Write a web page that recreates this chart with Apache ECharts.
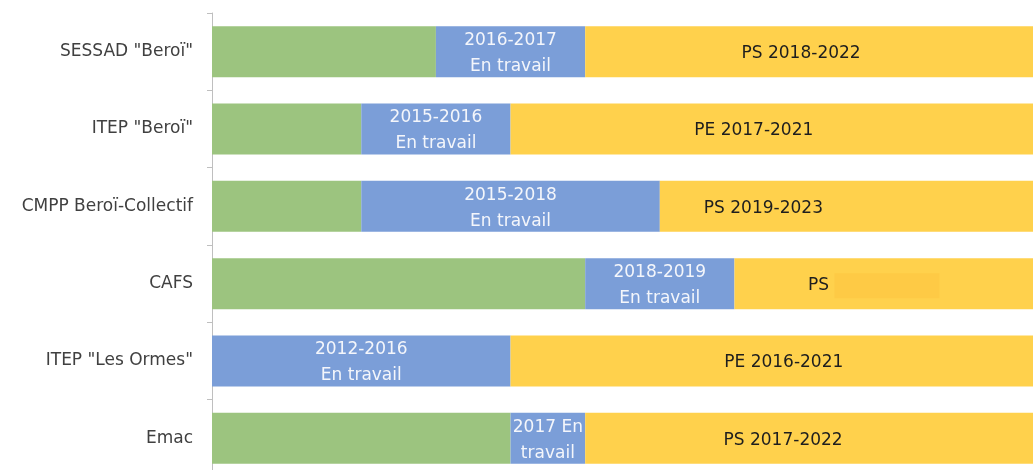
<!DOCTYPE html>
<html>
<head>
<meta charset="utf-8">
<script src="https://cdn.jsdelivr.net/npm/echarts@6/dist/echarts.min.js"></script>
<style>
  html, body { margin: 0; padding: 0; background: #ffffff; overflow: hidden; }
  #chart { width: 1033px; height: 480px; }
</style>
</head>
<body>
<div id="chart"></div>
<script>
// ---- data (units: years, stacked from the left edge) ----
const categories = ['SESSAD "Beroï"', 'ITEP "Beroï"', 'CMPP Beroï-Collectif', 'CAFS', 'ITEP "Les Ormes"', 'Emac'];
const beforeValues = [3, 2, 2, 5, 0, 4];
const workValues = [2, 2, 4, 2, 4, 1];
const planValues = [6, 7, 5, 4, 7, 6];
const workLabels = ['2016-2017\nEn travail', '2015-2016\nEn travail', '2015-2018\nEn travail', '2018-2019\nEn travail', '2012-2016\nEn travail', '2017 En\ntravail'];
const planLabels = ['PS 2018-2022', 'PE 2017-2021', 'PS 2019-2023', 'PS {r|}', 'PE 2016-2021', 'PS 2017-2022'];

// ---- layout / style ----
const FONT = 'DejaVu Sans';
const planLabelNudge = [-8, -18, -83, -10, 12, -26];
const GREEN = '#9CC47F', BLUE = '#7B9ED8', YELLOW = '#FFD14C';

const chart = echarts.init(document.getElementById('chart'), null, { renderer: 'canvas' });

const option = {
  animation: false,
  backgroundColor: '#ffffff',
  grid: { left: 212, top: 13, width: 826, height: 464, containLabel: false },
  xAxis: { type: 'value', min: 0, max: 11, show: false },
  yAxis: {
    type: 'category',
    data: categories,
    inverse: true,
    axisLine: { show: true, lineStyle: { color: '#BFBFBF', width: 1 } },
    axisTick: { show: true, length: 5, lineStyle: { color: '#BFBFBF' } },
    axisLabel: { color: '#404040', fontSize: 17, fontFamily: FONT, margin: 19 },
    splitLine: { show: false }
  },
  series: [
    {
      type: 'bar', stack: 'all', barWidth: 51,
      itemStyle: { color: GREEN },
      data: beforeValues,
      label: { show: false }
    },
    {
      type: 'bar', stack: 'all', barWidth: 51,
      itemStyle: { color: BLUE },
      data: workValues.map((v, i) => ({ value: v, label: { formatter: workLabels[i] } })),
      label: {
        show: true, position: 'inside', color: '#F4F6FB', offset: [0, 2],
        fontSize: 17, fontFamily: FONT, lineHeight: 26
      }
    },
    {
      type: 'bar', stack: 'all', barWidth: 51,
      itemStyle: { color: YELLOW },
      data: planValues.map((v, i) => ({ value: v, label: { formatter: planLabels[i], offset: [planLabelNudge[i], 2] } })),
      label: {
        show: true, position: 'inside', color: '#1E1E1E',
        fontSize: 17, fontFamily: FONT,
        rich: { r: { width: 105, height: 25, backgroundColor: '#FECA45' } }
      }
    }
  ]
};
chart.setOption(option);
</script>
</body>
</html>
